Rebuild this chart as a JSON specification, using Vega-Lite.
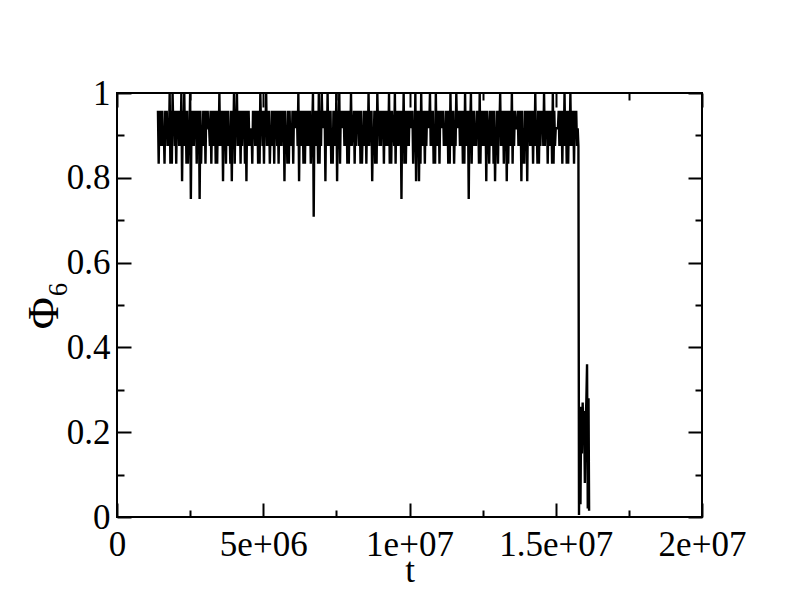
{
"$schema": "https://vega.github.io/schema/vega-lite/v6.json",
"width": 585, "height": 424,
"autosize": "none",
"padding": {"left": 117, "top": 93, "right": 90, "bottom": 93},
"background": "white",
"config": {
 "view": {"stroke": "black", "strokeWidth": 2},
 "axis": {"domain": false, "grid": false, "tickColor": "black", "tickWidth": 2, "labelFont": "Liberation Serif", "labelFontSize": 35, "labelColor": "black", "titleFont": "Liberation Serif", "titleFontSize": 35, "titleFontWeight": "normal", "titleColor": "black", "labelFlush": false, "labelOverlap": false}
},
"data": {"values": [
{"t":1400000,"p":0.958},{"t":1425000,"p":0.833},{"t":1450000,"p":0.958},{"t":1475000,"p":0.875},
{"t":1500000,"p":0.958},{"t":1525000,"p":0.875},{"t":1550000,"p":0.958},{"t":1575000,"p":0.875},
{"t":1600000,"p":0.917},{"t":1625000,"p":0.833},{"t":1650000,"p":0.958},{"t":1675000,"p":0.917},
{"t":1700000,"p":0.958},{"t":1725000,"p":0.875},{"t":1750000,"p":0.917},{"t":1775000,"p":0.875},
{"t":1800000,"p":1},{"t":1825000,"p":0.833},{"t":1850000,"p":0.958},{"t":1875000,"p":0.833},
{"t":1900000,"p":1},{"t":1925000,"p":0.917},{"t":1950000,"p":0.958},{"t":1975000,"p":0.875},
{"t":2000000,"p":0.958},{"t":2025000,"p":0.833},{"t":2050000,"p":0.958},{"t":2075000,"p":0.917},
{"t":2100000,"p":0.958},{"t":2125000,"p":0.875},{"t":2150000,"p":0.958},{"t":2175000,"p":0.875},
{"t":2200000,"p":1},{"t":2225000,"p":0.792},{"t":2250000,"p":0.958},{"t":2275000,"p":0.875},
{"t":2300000,"p":1},{"t":2325000,"p":0.875},{"t":2350000,"p":0.958},{"t":2375000,"p":0.833},
{"t":2400000,"p":0.958},{"t":2425000,"p":0.833},{"t":2450000,"p":0.917},{"t":2475000,"p":0.875},
{"t":2500000,"p":1},{"t":2525000,"p":0.75},{"t":2550000,"p":0.958},{"t":2575000,"p":0.875},
{"t":2600000,"p":0.958},{"t":2625000,"p":0.875},{"t":2650000,"p":0.958},{"t":2675000,"p":0.917},
{"t":2700000,"p":0.958},{"t":2725000,"p":0.833},{"t":2750000,"p":0.958},{"t":2775000,"p":0.875},
{"t":2800000,"p":0.958},{"t":2825000,"p":0.75},{"t":2850000,"p":0.958},{"t":2875000,"p":0.833},
{"t":2900000,"p":0.917},{"t":2925000,"p":0.875},{"t":2950000,"p":0.958},{"t":2975000,"p":0.875},
{"t":3000000,"p":0.958},{"t":3025000,"p":0.833},{"t":3050000,"p":0.958},{"t":3075000,"p":0.917},
{"t":3100000,"p":0.958},{"t":3125000,"p":0.917},{"t":3150000,"p":0.917},{"t":3175000,"p":0.875},
{"t":3200000,"p":0.958},{"t":3225000,"p":0.833},{"t":3250000,"p":0.958},{"t":3275000,"p":0.875},
{"t":3300000,"p":0.958},{"t":3325000,"p":0.875},{"t":3350000,"p":0.958},{"t":3375000,"p":0.833},
{"t":3400000,"p":0.958},{"t":3425000,"p":0.833},{"t":3450000,"p":0.958},{"t":3475000,"p":0.875},
{"t":3500000,"p":1},{"t":3525000,"p":0.875},{"t":3550000,"p":0.958},{"t":3575000,"p":0.875},
{"t":3600000,"p":0.958},{"t":3625000,"p":0.792},{"t":3650000,"p":0.958},{"t":3675000,"p":0.917},
{"t":3700000,"p":0.958},{"t":3725000,"p":0.833},{"t":3750000,"p":0.958},{"t":3775000,"p":0.875},
{"t":3800000,"p":0.958},{"t":3825000,"p":0.875},{"t":3850000,"p":0.917},{"t":3875000,"p":0.833},
{"t":3900000,"p":0.958},{"t":3925000,"p":0.792},{"t":3950000,"p":0.958},{"t":3975000,"p":0.875},
{"t":4000000,"p":1},{"t":4025000,"p":0.833},{"t":4050000,"p":0.958},{"t":4075000,"p":0.917},
{"t":4100000,"p":1},{"t":4125000,"p":0.875},{"t":4150000,"p":0.958},{"t":4175000,"p":0.875},
{"t":4200000,"p":0.958},{"t":4225000,"p":0.833},{"t":4250000,"p":0.958},{"t":4275000,"p":0.875},
{"t":4300000,"p":0.958},{"t":4325000,"p":0.917},{"t":4350000,"p":0.958},{"t":4375000,"p":0.833},
{"t":4400000,"p":0.958},{"t":4425000,"p":0.792},{"t":4450000,"p":0.958},{"t":4475000,"p":0.875},
{"t":4500000,"p":0.958},{"t":4525000,"p":0.875},{"t":4550000,"p":0.917},{"t":4575000,"p":0.875},
{"t":4600000,"p":0.917},{"t":4625000,"p":0.833},{"t":4650000,"p":0.958},{"t":4675000,"p":0.917},
{"t":4700000,"p":0.958},{"t":4725000,"p":0.875},{"t":4750000,"p":0.958},{"t":4775000,"p":0.875},
{"t":4800000,"p":0.958},{"t":4825000,"p":0.833},{"t":4850000,"p":0.958},{"t":4875000,"p":0.833},
{"t":4900000,"p":1},{"t":4925000,"p":0.917},{"t":4950000,"p":0.958},{"t":4975000,"p":0.875},
{"t":5000000,"p":0.958},{"t":5025000,"p":0.833},{"t":5050000,"p":0.958},{"t":5075000,"p":0.917},
{"t":5100000,"p":1},{"t":5125000,"p":0.875},{"t":5150000,"p":0.958},{"t":5175000,"p":0.875},
{"t":5200000,"p":0.958},{"t":5225000,"p":0.833},{"t":5250000,"p":0.917},{"t":5275000,"p":0.875},
{"t":5300000,"p":0.958},{"t":5325000,"p":0.875},{"t":5350000,"p":0.958},{"t":5375000,"p":0.833},
{"t":5400000,"p":0.958},{"t":5425000,"p":0.917},{"t":5450000,"p":0.958},{"t":5475000,"p":0.875},
{"t":5500000,"p":0.958},{"t":5525000,"p":0.833},{"t":5550000,"p":0.958},{"t":5575000,"p":0.875},
{"t":5600000,"p":0.958},{"t":5625000,"p":0.875},{"t":5650000,"p":0.958},{"t":5675000,"p":0.917},
{"t":5700000,"p":0.958},{"t":5725000,"p":0.792},{"t":5750000,"p":0.958},{"t":5775000,"p":0.875},
{"t":5800000,"p":0.917},{"t":5825000,"p":0.833},{"t":5850000,"p":0.958},{"t":5875000,"p":0.833},
{"t":5900000,"p":0.958},{"t":5925000,"p":0.875},{"t":5950000,"p":0.917},{"t":5975000,"p":0.875},
{"t":6000000,"p":0.958},{"t":6025000,"p":0.833},{"t":6050000,"p":0.958},{"t":6075000,"p":0.917},
{"t":6100000,"p":0.958},{"t":6125000,"p":0.917},{"t":6150000,"p":0.958},{"t":6175000,"p":0.875},
{"t":6200000,"p":1},{"t":6225000,"p":0.792},{"t":6250000,"p":0.958},{"t":6275000,"p":0.875},
{"t":6300000,"p":0.958},{"t":6325000,"p":0.875},{"t":6350000,"p":0.958},{"t":6375000,"p":0.833},
{"t":6400000,"p":0.958},{"t":6425000,"p":0.833},{"t":6450000,"p":0.958},{"t":6475000,"p":0.875},
{"t":6500000,"p":0.958},{"t":6525000,"p":0.875},{"t":6550000,"p":0.958},{"t":6575000,"p":0.875},
{"t":6600000,"p":0.958},{"t":6625000,"p":0.833},{"t":6650000,"p":0.917},{"t":6675000,"p":0.917},
{"t":6700000,"p":1},{"t":6725000,"p":0.708},{"t":6750000,"p":0.958},{"t":6775000,"p":0.875},
{"t":6800000,"p":0.958},{"t":6825000,"p":0.875},{"t":6850000,"p":0.958},{"t":6875000,"p":0.833},
{"t":6900000,"p":1},{"t":6925000,"p":0.833},{"t":6950000,"p":0.958},{"t":6975000,"p":0.875},
{"t":7000000,"p":1},{"t":7025000,"p":0.917},{"t":7050000,"p":0.958},{"t":7075000,"p":0.917},
{"t":7100000,"p":0.958},{"t":7125000,"p":0.792},{"t":7150000,"p":0.958},{"t":7175000,"p":0.875},
{"t":7200000,"p":1},{"t":7225000,"p":0.875},{"t":7250000,"p":0.958},{"t":7275000,"p":0.875},
{"t":7300000,"p":0.958},{"t":7325000,"p":0.833},{"t":7350000,"p":0.917},{"t":7375000,"p":0.833},
{"t":7400000,"p":0.958},{"t":7425000,"p":0.875},{"t":7450000,"p":0.958},{"t":7475000,"p":0.875},
{"t":7500000,"p":1},{"t":7525000,"p":0.792},{"t":7550000,"p":0.958},{"t":7575000,"p":0.875},
{"t":7600000,"p":1},{"t":7625000,"p":0.833},{"t":7650000,"p":0.958},{"t":7675000,"p":0.917},
{"t":7700000,"p":0.958},{"t":7725000,"p":0.917},{"t":7750000,"p":0.958},{"t":7775000,"p":0.875},
{"t":7800000,"p":0.958},{"t":7825000,"p":0.875},{"t":7850000,"p":0.958},{"t":7875000,"p":0.833},
{"t":7900000,"p":0.958},{"t":7925000,"p":0.833},{"t":7950000,"p":0.958},{"t":7975000,"p":0.875},
{"t":8000000,"p":1},{"t":8025000,"p":0.875},{"t":8050000,"p":0.917},{"t":8075000,"p":0.917},
{"t":8100000,"p":0.958},{"t":8125000,"p":0.833},{"t":8150000,"p":0.958},{"t":8175000,"p":0.875},
{"t":8200000,"p":0.958},{"t":8225000,"p":0.917},{"t":8250000,"p":0.958},{"t":8275000,"p":0.875},
{"t":8300000,"p":0.958},{"t":8325000,"p":0.833},{"t":8350000,"p":0.958},{"t":8375000,"p":0.833},
{"t":8400000,"p":0.917},{"t":8425000,"p":0.875},{"t":8450000,"p":0.958},{"t":8475000,"p":0.875},
{"t":8500000,"p":0.958},{"t":8525000,"p":0.833},{"t":8550000,"p":0.958},{"t":8575000,"p":0.875},
{"t":8600000,"p":1},{"t":8625000,"p":0.875},{"t":8650000,"p":0.958},{"t":8675000,"p":0.917},
{"t":8700000,"p":0.958},{"t":8725000,"p":0.792},{"t":8750000,"p":0.917},{"t":8775000,"p":0.875},
{"t":8800000,"p":0.958},{"t":8825000,"p":0.833},{"t":8850000,"p":0.958},{"t":8875000,"p":0.833},
{"t":8900000,"p":1},{"t":8925000,"p":0.917},{"t":8950000,"p":0.958},{"t":8975000,"p":0.875},
{"t":9000000,"p":0.958},{"t":9025000,"p":0.875},{"t":9050000,"p":0.958},{"t":9075000,"p":0.917},
{"t":9100000,"p":0.958},{"t":9125000,"p":0.833},{"t":9150000,"p":0.958},{"t":9175000,"p":0.875},
{"t":9200000,"p":0.958},{"t":9225000,"p":0.875},{"t":9250000,"p":0.958},{"t":9275000,"p":0.875},
{"t":9300000,"p":1},{"t":9325000,"p":0.833},{"t":9350000,"p":0.958},{"t":9375000,"p":0.833},
{"t":9400000,"p":0.958},{"t":9425000,"p":0.917},{"t":9450000,"p":0.917},{"t":9475000,"p":0.875},
{"t":9500000,"p":1},{"t":9525000,"p":0.833},{"t":9550000,"p":0.958},{"t":9575000,"p":0.875},
{"t":9600000,"p":0.958},{"t":9625000,"p":0.875},{"t":9650000,"p":0.958},{"t":9675000,"p":0.917},
{"t":9700000,"p":0.958},{"t":9725000,"p":0.75},{"t":9750000,"p":0.958},{"t":9775000,"p":0.875},
{"t":9800000,"p":1},{"t":9825000,"p":0.833},{"t":9850000,"p":0.958},{"t":9875000,"p":0.833},
{"t":9900000,"p":0.958},{"t":9925000,"p":0.875},{"t":9950000,"p":0.958},{"t":9975000,"p":0.875},
{"t":10000000,"p":0.958},{"t":10025000,"p":0.917},{"t":10050000,"p":0.958},{"t":10075000,"p":0.917},
{"t":10100000,"p":0.958},{"t":10125000,"p":0.833},{"t":10150000,"p":0.917},{"t":10175000,"p":0.875},
{"t":10200000,"p":1},{"t":10225000,"p":0.792},{"t":10250000,"p":0.958},{"t":10275000,"p":0.875},
{"t":10300000,"p":0.958},{"t":10325000,"p":0.792},{"t":10350000,"p":0.958},{"t":10375000,"p":0.833},
{"t":10400000,"p":1},{"t":10425000,"p":0.875},{"t":10450000,"p":0.958},{"t":10475000,"p":0.875},
{"t":10500000,"p":0.958},{"t":10525000,"p":0.833},{"t":10550000,"p":0.958},{"t":10575000,"p":0.875},
{"t":10600000,"p":0.958},{"t":10625000,"p":0.917},{"t":10650000,"p":0.958},{"t":10675000,"p":0.917},
{"t":10700000,"p":1},{"t":10725000,"p":0.875},{"t":10750000,"p":0.958},{"t":10775000,"p":0.875},
{"t":10800000,"p":0.958},{"t":10825000,"p":0.833},{"t":10850000,"p":0.917},{"t":10875000,"p":0.833},
{"t":10900000,"p":1},{"t":10925000,"p":0.875},{"t":10950000,"p":0.958},{"t":10975000,"p":0.875},
{"t":11000000,"p":0.958},{"t":11025000,"p":0.833},{"t":11050000,"p":0.958},{"t":11075000,"p":0.917},
{"t":11100000,"p":0.958},{"t":11125000,"p":0.917},{"t":11150000,"p":0.958},{"t":11175000,"p":0.875},
{"t":11200000,"p":0.917},{"t":11225000,"p":0.875},{"t":11250000,"p":0.958},{"t":11275000,"p":0.875},
{"t":11300000,"p":0.958},{"t":11325000,"p":0.833},{"t":11350000,"p":0.958},{"t":11375000,"p":0.833},
{"t":11400000,"p":1},{"t":11425000,"p":0.875},{"t":11450000,"p":0.958},{"t":11475000,"p":0.875},
{"t":11500000,"p":0.958},{"t":11525000,"p":0.833},{"t":11550000,"p":0.917},{"t":11575000,"p":0.875},
{"t":11600000,"p":1},{"t":11625000,"p":0.917},{"t":11650000,"p":0.958},{"t":11675000,"p":0.917},
{"t":11700000,"p":0.958},{"t":11725000,"p":0.875},{"t":11750000,"p":0.958},{"t":11775000,"p":0.875},
{"t":11800000,"p":0.958},{"t":11825000,"p":0.833},{"t":11850000,"p":0.958},{"t":11875000,"p":0.833},
{"t":11900000,"p":1},{"t":11925000,"p":0.875},{"t":11950000,"p":0.958},{"t":11975000,"p":0.875},
{"t":12000000,"p":0.958},{"t":12025000,"p":0.75},{"t":12050000,"p":0.958},{"t":12075000,"p":0.917},
{"t":12100000,"p":1},{"t":12125000,"p":0.833},{"t":12150000,"p":0.958},{"t":12175000,"p":0.875},
{"t":12200000,"p":0.958},{"t":12225000,"p":0.875},{"t":12250000,"p":0.917},{"t":12275000,"p":0.875},
{"t":12300000,"p":0.958},{"t":12325000,"p":0.917},{"t":12350000,"p":0.958},{"t":12375000,"p":0.833},
{"t":12400000,"p":1},{"t":12425000,"p":0.833},{"t":12450000,"p":0.958},{"t":12475000,"p":0.875},
{"t":12500000,"p":0.958},{"t":12525000,"p":0.875},{"t":12550000,"p":0.958},{"t":12575000,"p":0.875},
{"t":12600000,"p":0.958},{"t":12625000,"p":0.792},{"t":12650000,"p":0.958},{"t":12675000,"p":0.917},
{"t":12700000,"p":0.917},{"t":12725000,"p":0.833},{"t":12750000,"p":0.958},{"t":12775000,"p":0.875},
{"t":12800000,"p":0.958},{"t":12825000,"p":0.875},{"t":12850000,"p":0.958},{"t":12875000,"p":0.833},
{"t":12900000,"p":0.958},{"t":12925000,"p":0.792},{"t":12950000,"p":0.917},{"t":12975000,"p":0.875},
{"t":13000000,"p":0.958},{"t":13025000,"p":0.833},{"t":13050000,"p":0.958},{"t":13075000,"p":0.917},
{"t":13100000,"p":1},{"t":13125000,"p":0.875},{"t":13150000,"p":0.958},{"t":13175000,"p":0.875},
{"t":13200000,"p":0.958},{"t":13225000,"p":0.833},{"t":13250000,"p":0.958},{"t":13275000,"p":0.875},
{"t":13300000,"p":0.958},{"t":13325000,"p":0.792},{"t":13350000,"p":0.958},{"t":13375000,"p":0.833},
{"t":13400000,"p":0.958},{"t":13425000,"p":0.875},{"t":13450000,"p":0.958},{"t":13475000,"p":0.875},
{"t":13500000,"p":1},{"t":13525000,"p":0.833},{"t":13550000,"p":0.958},{"t":13575000,"p":0.875},
{"t":13600000,"p":0.958},{"t":13625000,"p":0.917},{"t":13650000,"p":0.917},{"t":13675000,"p":0.917},
{"t":13700000,"p":0.958},{"t":13725000,"p":0.875},{"t":13750000,"p":0.958},{"t":13775000,"p":0.875},
{"t":13800000,"p":0.958},{"t":13825000,"p":0.792},{"t":13850000,"p":0.958},{"t":13875000,"p":0.833},
{"t":13900000,"p":0.917},{"t":13925000,"p":0.833},{"t":13950000,"p":0.958},{"t":13975000,"p":0.875},
{"t":14000000,"p":0.958},{"t":14025000,"p":0.792},{"t":14050000,"p":0.958},{"t":14075000,"p":0.917},
{"t":14100000,"p":0.958},{"t":14125000,"p":0.875},{"t":14150000,"p":0.958},{"t":14175000,"p":0.875},
{"t":14200000,"p":0.958},{"t":14225000,"p":0.833},{"t":14250000,"p":0.958},{"t":14275000,"p":0.875},
{"t":14300000,"p":1},{"t":14325000,"p":0.875},{"t":14350000,"p":0.917},{"t":14375000,"p":0.833},
{"t":14400000,"p":0.958},{"t":14425000,"p":0.833},{"t":14450000,"p":0.958},{"t":14475000,"p":0.875},
{"t":14500000,"p":0.958},{"t":14525000,"p":0.917},{"t":14550000,"p":0.958},{"t":14575000,"p":0.875},
{"t":14600000,"p":1},{"t":14625000,"p":0.875},{"t":14650000,"p":0.958},{"t":14675000,"p":0.917},
{"t":14700000,"p":0.958},{"t":14725000,"p":0.833},{"t":14750000,"p":0.958},{"t":14775000,"p":0.875},
{"t":14800000,"p":0.958},{"t":14825000,"p":0.875},{"t":14850000,"p":0.958},{"t":14875000,"p":0.833},
{"t":14900000,"p":1},{"t":14925000,"p":0.833},{"t":14950000,"p":0.958},{"t":14975000,"p":0.875},
{"t":15000000,"p":0.917},{"t":15025000,"p":0.917},{"t":15050000,"p":0.917},{"t":15075000,"p":0.917},
{"t":15100000,"p":0.958},{"t":15125000,"p":0.875},{"t":15150000,"p":0.958},{"t":15175000,"p":0.875},
{"t":15200000,"p":0.958},{"t":15225000,"p":0.833},{"t":15250000,"p":0.958},{"t":15275000,"p":0.875},
{"t":15300000,"p":1},{"t":15325000,"p":0.875},{"t":15350000,"p":0.958},{"t":15375000,"p":0.833},
{"t":15400000,"p":0.958},{"t":15425000,"p":0.833},{"t":15450000,"p":0.958},{"t":15475000,"p":0.875},
{"t":15500000,"p":1},{"t":15525000,"p":0.875},{"t":15550000,"p":0.958},{"t":15575000,"p":0.875},
{"t":15600000,"p":0.958},{"t":15625000,"p":0.833},{"t":15650000,"p":0.958},{"t":15675000,"p":0.917},
{"t":15700000,"p":0.958},{"t":15725000,"p":0.875},{"t":15750000,"p":0.917},{"t":15775000,"p":0.875},
{"t":15795000,"p":0.005},{"t":15820000,"p":0.23},{"t":15845000,"p":0.03},{"t":15870000,"p":0.26},{"t":15895000,"p":0.15},{"t":15920000,"p":0.27},{"t":15945000,"p":0.19},{"t":15970000,"p":0.25},{"t":15995000,"p":0.08},{"t":16020000,"p":0.22},
{"t":16045000,"p":0.27},{"t":16070000,"p":0.36},{"t":16095000,"p":0.02},{"t":16120000,"p":0.28},{"t":16140000,"p":0.015}
]},
"layer": [
 {
  "mark": {"type": "line", "color": "black", "strokeWidth": 2.4, "clip": true},
  "encoding": {
   "x": {"field": "t", "type": "quantitative", "scale": {"domain": [0, 20000000], "nice": false, "zero": false},
    "axis": {"orient": "bottom", "title": "t", "labelFontSize": 35, "values": [0,2500000,5000000,7500000,10000000,12500000,15000000,17500000,20000000],
     "tickSize": {"condition": {"test": "datum.value % 5000000 === 0", "value": -14}, "value": -7},
     "labelPadding": 24, "titlePadding": -16,
     "labelExpr": "datum.value === 0 ? '0' : (datum.value % 5000000 === 0 ? replace(format(datum.value, '.2~e'), 'e+', 'e+0') : '')"}},
   "y": {"field": "p", "type": "quantitative", "scale": {"domain": [0, 1], "nice": false, "zero": false},
    "axis": {"orient": "left", "title": "Φ₆", "titleFontSize": 44, "labelFontSize": 35, "values": [0,0.1,0.2,0.3,0.4,0.5,0.6,0.7,0.8,0.9,1],
     "tickSize": {"condition": {"test": "round(datum.value*10) % 2 === 0", "value": -14}, "value": -7},
     "labelPadding": 21, "titlePadding": 0,
     "labelExpr": "round(datum.value*10) % 2 === 0 ? format(datum.value, '~g') : ''"}}
  }
 },
 {
  "mark": {"type": "line", "strokeOpacity": 0},
  "encoding": {
   "x": {"field": "t", "type": "quantitative",
    "axis": {"orient": "top", "title": null, "labels": false, "values": [0,2500000,5000000,7500000,10000000,12500000,15000000,17500000,20000000],
     "tickSize": {"condition": {"test": "datum.value % 5000000 === 0", "value": -14}, "value": -7}}},
   "y": {"field": "p", "type": "quantitative",
    "axis": {"orient": "right", "title": null, "labels": false, "values": [0,0.1,0.2,0.3,0.4,0.5,0.6,0.7,0.8,0.9,1],
     "tickSize": {"condition": {"test": "round(datum.value*10) % 2 === 0", "value": -14}, "value": -7}}}
  }
 }
],
"resolve": {"axis": {"x": "independent", "y": "independent"}}
}
